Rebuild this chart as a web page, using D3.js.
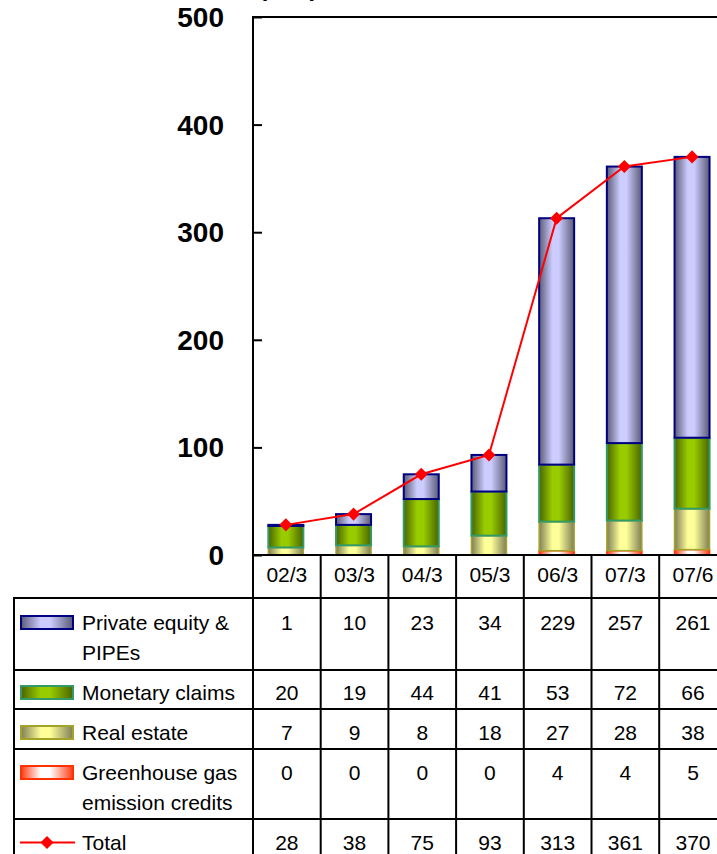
<!DOCTYPE html>
<html>
<head>
<meta charset="utf-8">
<script src="https://cdn.jsdelivr.net/npm/d3@7"></script>
<style>
  html, body { margin: 0; padding: 0; background: #fff; }
  svg { display: block; font-family: "Liberation Sans", Arial, sans-serif; }
</style>
</head>
<body>
<svg id="chart" width="717" height="854"></svg>
<script>
// Fiscal period labels (year/month)
const periods = ["02/3", "03/3", "04/3", "05/3", "06/3", "07/3", "07/6"];

// Asset balances by category
const privateEquity = [1, 10, 23, 34, 229, 257, 261];
const monetaryClaims = [20, 19, 44, 41, 53, 72, 66];
const realEstate = [7, 9, 8, 18, 27, 28, 38];
const greenhouseCredits = [0, 0, 0, 0, 4, 4, 5];
const totals = [28, 38, 75, 93, 313, 361, 370];

const yTicks = [0, 100, 200, 300, 400, 500];
const unitLabel = "(¥bn)";

// Series drawn bottom-up in the stack; table lists them top-down
const seriesDefs = [
  { key: "ghg", name: ["Greenhouse gas", "emission credits"], values: greenhouseCredits,
    edge: "#ff3a10", mid: "#ffffff", stroke: "#ff3300", sw: 1.5 },
  { key: "re", name: ["Real estate"], values: realEstate,
    edge: "#7e7e56", mid: "#ffff99", stroke: "#a3a32a", sw: 1.5 },
  { key: "mc", name: ["Monetary claims"], values: monetaryClaims,
    edge: "#4a6400", mid: "#99cc00", stroke: "#339966", sw: 2 },
  { key: "pe", name: ["Private equity &", "PIPEs"], values: privateEquity,
    edge: "#5a5a76", mid: "#ccccff", stroke: "#000080", sw: 2 }
];

const svg = d3.select("#chart");

const plotLeft = 253, plotTop = 17, plotBottom = 555, colW = 67.7;

const x = d3.scaleBand()
  .domain(periods)
  .range([plotLeft, plotLeft + colW * periods.length])
  .padding(0);

const y = d3.scaleLinear()
  .domain([0, 500])
  .range([plotBottom, plotTop]);

const barW = 35;
const barX = d => x(d) + (x.bandwidth() - barW) / 2 - 1;
const cx = d => x(d) + x.bandwidth() / 2 - 1;

// Cylinder-like horizontal gradients
const defs = svg.append("defs");
seriesDefs.forEach(s => {
  const g = defs.append("linearGradient")
    .attr("id", "grad-" + s.key)
    .attr("x1", 0).attr("x2", 1).attr("y1", 0).attr("y2", 0);
  g.append("stop").attr("offset", "0").attr("stop-color", s.edge);
  g.append("stop").attr("offset", "0.38").attr("stop-color", s.mid);
  g.append("stop").attr("offset", "0.56").attr("stop-color", s.mid);
  g.append("stop").attr("offset", "1").attr("stop-color", s.edge);
});

// Unit label (mostly above the visible area)
svg.append("text")
  .attr("x", 259).attr("y", -4)
  .attr("font-size", 24).attr("font-weight", "bold")
  .text(unitLabel);

// Stacked bars
const stackData = periods.map((p, i) => {
  const row = { period: p };
  seriesDefs.forEach(s => row[s.key] = s.values[i]);
  return row;
});
const stacked = d3.stack().keys(seriesDefs.map(s => s.key))(stackData);

stacked.forEach((layer, li) => {
  const s = seriesDefs[li];
  svg.append("g")
    .selectAll("rect")
    .data(layer.filter(d => d[1] - d[0] > 0))
    .join("rect")
    .attr("x", d => barX(d.data.period))
    .attr("y", d => y(d[1]))
    .attr("width", barW)
    .attr("height", d => y(d[0]) - y(d[1]))
    .attr("fill", "url(#grad-" + s.key + ")")
    .attr("stroke", s.stroke)
    .attr("stroke-width", s.sw);
});

// Plot frame: top border
svg.append("line")
  .attr("x1", plotLeft).attr("x2", 717)
  .attr("y1", plotTop).attr("y2", plotTop)
  .attr("stroke", "#000").attr("stroke-width", 2);

// Value axis with inward ticks
const yAxis = svg.append("g")
  .attr("transform", `translate(${plotLeft},0)`)
  .call(d3.axisRight(y).tickValues(yTicks).tickSize(9).tickFormat(""));
yAxis.select(".domain").remove();
yAxis.selectAll(".tick line").attr("stroke", "#000").attr("stroke-width", 2);

svg.append("g")
  .selectAll("text")
  .data(yTicks)
  .join("text")
  .attr("x", 224)
  .attr("y", d => y(d))
  .attr("dy", "0.36em")
  .attr("text-anchor", "end")
  .attr("font-size", 28)
  .attr("font-weight", "bold")
  .text(d => d);

// Total line with diamond markers
const line = d3.line()
  .x((d, i) => cx(periods[i]))
  .y(d => y(d));
svg.append("path")
  .datum(totals)
  .attr("d", line)
  .attr("fill", "none")
  .attr("stroke", "#ff0000")
  .attr("stroke-width", 2);

const diamond = d3.symbol().type(d3.symbolSquare).size(85);
svg.append("g")
  .selectAll("path")
  .data(totals)
  .join("path")
  .attr("transform", (d, i) => `translate(${cx(periods[i])},${y(d)}) rotate(45)`)
  .attr("d", diamond)
  .attr("fill", "#ff0000");

// ---- Data table ----
const tableLeft = 14;
const headerTop = plotBottom, headerBottom = 598;
const rows = [
  { s: seriesDefs[3], top: 598, bottom: 670, base: 630 },
  { s: seriesDefs[2], top: 670, bottom: 709, base: 700 },
  { s: seriesDefs[1], top: 709, bottom: 749, base: 740 },
  { s: seriesDefs[0], top: 749, bottom: 819, base: 780 },
  { s: null, top: 819, bottom: 880, base: 850 }
];
const grid = svg.append("g").attr("stroke", "#000").attr("stroke-width", 2);

// Horizontal rules
grid.append("line").attr("x1", plotLeft).attr("x2", 717).attr("y1", headerTop).attr("y2", headerTop);
rows.forEach(r => {
  grid.append("line").attr("x1", tableLeft - 1).attr("x2", 717).attr("y1", r.top).attr("y2", r.top);
});

// Vertical rules
grid.append("line").attr("x1", plotLeft).attr("x2", plotLeft).attr("y1", plotTop - 1).attr("y2", 854);
grid.append("line").attr("x1", tableLeft).attr("x2", tableLeft).attr("y1", headerBottom).attr("y2", 854);
periods.forEach(p => {
  const xr = x(p) + x.bandwidth();
  grid.append("line").attr("x1", xr).attr("x2", xr).attr("y1", headerTop).attr("y2", 854);
});

// Header labels
svg.append("g")
  .selectAll("text")
  .data(periods)
  .join("text")
  .attr("x", d => x(d) + x.bandwidth() / 2)
  .attr("y", 582)
  .attr("text-anchor", "middle")
  .attr("font-size", 21)
  .text(d => d);

// Row legends and values
rows.forEach(r => {
  const g = svg.append("g");
  const capMid = r.base - 7.5;
  if (r.s) {
    g.append("rect")
      .attr("x", 21).attr("y", capMid - 6.5)
      .attr("width", 52).attr("height", 13)
      .attr("fill", "url(#grad-" + r.s.key + ")")
      .attr("stroke", r.s.stroke)
      .attr("stroke-width", 2);
    r.s.name.forEach((t, k) => {
      g.append("text")
        .attr("x", 82).attr("y", r.base + k * 30)
        .attr("font-size", 21)
        .text(t);
    });
    g.selectAll(".v")
      .data(r.s.values)
      .join("text")
      .attr("x", (d, i) => x(periods[i]) + x.bandwidth() / 2)
      .attr("y", r.base)
      .attr("text-anchor", "middle")
      .attr("font-size", 21)
      .text(d => d);
  } else {
    g.append("line")
      .attr("x1", 20).attr("x2", 75)
      .attr("y1", capMid).attr("y2", capMid)
      .attr("stroke", "#ff0000").attr("stroke-width", 2);
    g.append("path")
      .attr("transform", `translate(47,${capMid}) rotate(45)`)
      .attr("d", diamond)
      .attr("fill", "#ff0000");
    g.append("text")
      .attr("x", 82).attr("y", r.base)
      .attr("font-size", 21)
      .text("Total");
    g.selectAll(".v")
      .data(totals)
      .join("text")
      .attr("x", (d, i) => x(periods[i]) + x.bandwidth() / 2)
      .attr("y", r.base)
      .attr("text-anchor", "middle")
      .attr("font-size", 21)
      .text(d => d);
  }
});
</script>
</body>
</html>
